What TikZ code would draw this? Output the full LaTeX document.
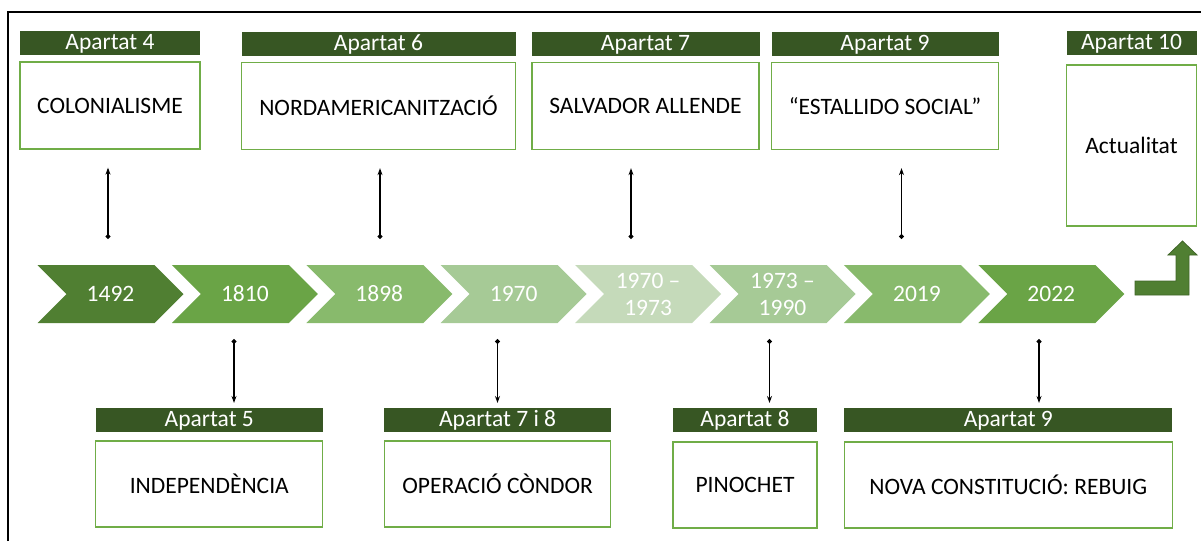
\documentclass[tikz,border=0pt]{standalone}
\usepackage{fontspec}
\setmainfont{Carlito}
\usetikzlibrary{positioning,shapes.symbols,arrows.meta}
\definecolor{hdrgreen}{HTML}{375623}
\definecolor{boxgreen}{HTML}{70AD47}
\definecolor{yr1}{HTML}{507F32}
\definecolor{yr2}{HTML}{6AA446}
\definecolor{yr3}{HTML}{88BA6C}
\definecolor{yr4}{HTML}{A6CA96}
\definecolor{yr5}{HTML}{C5DABA}
\begin{document}
\begin{tikzpicture}[
    x=1pt, y=-1pt,
    >={Stealth[length=7pt,width=5pt]},
    font=\fontsize{23.5}{27}\selectfont,
    apartat/.style={fill=hdrgreen, text=white, minimum height=24pt,
      inner sep=0pt, text height=17pt, text depth=4pt},
    tema/.style={draw=boxgreen, line width=1.3pt, fill=white,
      minimum height=87pt, inner sep=0pt, align=center},
    any/.style={signal, signal from=west, signal to=east,
      signal pointer angle=90, minimum width=146pt, minimum height=58pt,
      inner sep=0pt, text=white, align=center},
    fletxa/.style={{Circle[length=5pt]}->, line width=1.1pt}
  ]
    \useasboundingbox (0,0) rectangle (1201,541);
    \draw[line width=1.8pt] (8,541) -- (8,12) -- (1201,12);

    \node (y1492) [any, fill=yr1] at (110.5,294) {1492};
    \node (y1810) [any, fill=yr2] at (244.9,294) {1810};
    \node (y1898) [any, fill=yr3] at (379.3,294) {1898};
    \node (y1970) [any, fill=yr4] at (513.7,294) {1970};
    \node (y1973) [any, fill=yr5] at (648.1,294) {1970 –\\1973};
    \node (y1990) [any, fill=yr4] at (782.5,294) {1973 –\\1990};
    \node (y2019) [any, fill=yr3] at (916.9,294) {2019};
    \node (y2022) [any, fill=yr2] at (1051.3,294) {2022};

    \node (colonial) [tema, minimum width=180pt] at (110,105.5) {COLONIALISME};
    \node (ap4) [apartat, minimum width=180pt, above=6pt of colonial] {Apartat 4};
    \node (nord) [tema, minimum width=274pt] at (378.5,106) {NORDAMERICANITZACIÓ};
    \node (ap6) [apartat, minimum width=274pt, above=6pt of nord] {Apartat 6};
    \node (allende) [tema, minimum width=227pt] at (645.5,106) {SALVADOR ALLENDE};
    \node (ap7) [apartat, minimum width=228pt, above=6pt of allende] {Apartat 7};
    \node (estallido) [tema, minimum width=227pt] at (885,106) {“ESTALLIDO SOCIAL”};
    \node (ap9) [apartat, minimum width=227pt, above=6pt of estallido] {Apartat 9};
    \node (actual) [tema, minimum width=130pt, minimum height=161pt] at (1131.5,145.5) {Actualitat};
    \node (ap10) [apartat, minimum width=130pt, above=9pt of actual] {Apartat 10};

    \node (indep) [tema, minimum width=227pt, minimum height=86pt] at (209.3,484) {INDEPENDÈNCIA};
    \node (ap5) [apartat, minimum width=227pt, above=8pt of indep] {Apartat 5};
    \node (condor) [tema, minimum width=226pt, minimum height=86pt] at (497.6,484) {OPERACIÓ CÒNDOR};
    \node (ap78) [apartat, minimum width=227pt, above=8pt of condor] {Apartat 7 i 8};
    \node (pinochet) [tema, minimum width=144pt, minimum height=86pt] at (745,485) {PINOCHET};
    \node (ap8) [apartat, minimum width=144pt, above=9pt of pinochet] {Apartat 8};
    \node (nova) [tema, minimum width=328pt, minimum height=86pt] at (1008.3,485) {NOVA CONSTITUCIÓ: REBUIG};
    \node (ap9b) [apartat, minimum width=328pt, above=9pt of nova] {Apartat 9};

    \coordinate (d1492) at (108,239);
    \coordinate (d1898) at (380,239);
    \coordinate (d1973) at (631,239);
    \coordinate (d2019) at (901.5,239);
    \draw[fletxa, shorten >=18pt] (d1492) -- (d1492 |- colonial.south);
    \draw[fletxa, shorten >=18pt] (d1898) -- (d1898 |- nord.south);
    \draw[fletxa, shorten >=18pt] (d1973) -- (d1973 |- allende.south);
    \draw[fletxa, shorten >=18pt] (d2019) -- (d2019 |- estallido.south);

    \coordinate (d1810) at (234,339);
    \coordinate (d1970) at (497.5,339);
    \coordinate (d1990) at (769.5,339);
    \coordinate (d2022) at (1039,339);
    \draw[fletxa, shorten >=5pt] (d1810) -- (d1810 |- ap5.north);
    \draw[fletxa, shorten >=5pt] (d1970) -- (d1970 |- ap78.north);
    \draw[fletxa, shorten >=5pt] (d1990) -- (d1990 |- ap8.north);
    \draw[fletxa, shorten >=5pt] (d2022) -- (d2022 |- ap9b.north);

    \filldraw[fill=yr1, draw=yr1!80!black, line width=0.8pt]
      (1135,281) -- (1176,281) -- (1176,255) -- (1168,255) -- (1182.5,241)
      -- (1197,255) -- (1189,255) -- (1189,295) -- (1135,295) -- cycle;
  \end{tikzpicture}
\end{document}
